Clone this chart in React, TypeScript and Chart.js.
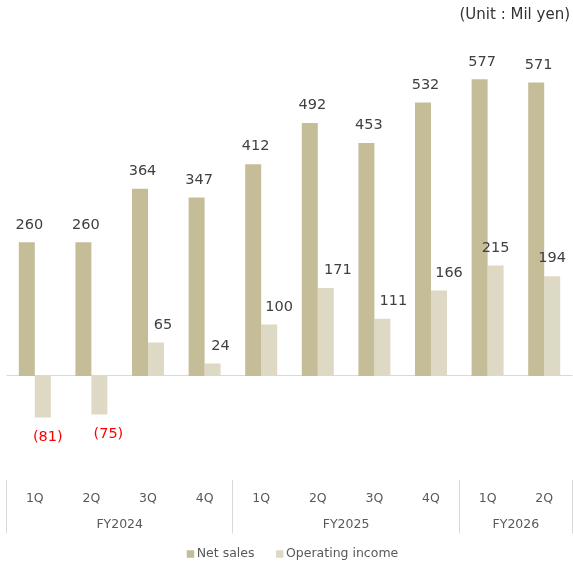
import { useEffect, useRef } from "react";
import { Chart, registerables } from "chart.js";

Chart.register(...registerables);

// Quarterly results
const quarters = ["1Q", "2Q", "3Q", "4Q", "1Q", "2Q", "3Q", "4Q", "1Q", "2Q"];
const fiscalYears = ["FY2024", "FY2025", "FY2026"];
const quartersPerYear = [4, 4, 2];
const netSales = [260, 260, 364, 347, 412, 492, 453, 532, 577, 571];
const operatingIncome = [-81, -75, 65, 24, 100, 171, 111, 166, 215, 194];
const seriesNames = ["Net sales", "Operating income"];
const unitLabel = "(Unit : Mil yen)";

const SALES_COLOR = "#c4bd97";
const INCOME_COLOR = "#ddd9c4";
const TEXT_DARK = "#404040";
const TEXT_AXIS = "#595959";
const RULE_COLOR = "#d9d9d9";
const FONT = "'DejaVu Sans', Verdana, sans-serif";

// horizontal nudges (px) for the operating income value labels
const incomeLabelNudge = [5, 9, 7, 8, 10, 12, 11, 10, 0, 0];

const fmt = (v: number) => (v < 0 ? `(${Math.abs(v)})` : String(v));

const decorations = {
  id: "decorations",
  beforeDatasetsDraw(chart: any) {
    const { ctx, chartArea, scales } = chart;
    const y0 = Math.floor(scales.y.getPixelForValue(0)) + 0.5;
    ctx.save();
    ctx.strokeStyle = RULE_COLOR;
    ctx.lineWidth = 1;
    ctx.beginPath();
    ctx.moveTo(chartArea.left, y0);
    ctx.lineTo(chartArea.right, y0);
    ctx.stroke();
    ctx.restore();
  },
  afterDraw(chart: any) {
    const { ctx, chartArea, scales } = chart;
    const x = scales.x;
    const bottom = chartArea.bottom;
    ctx.save();
    ctx.textAlign = "center";
    ctx.textBaseline = "middle";

    // value labels
    ctx.font = `14.5px ${FONT}`;
    const salesMeta = chart.getDatasetMeta(0);
    const incomeMeta = chart.getDatasetMeta(1);
    salesMeta.data.forEach((bar: any, i: number) => {
      ctx.fillStyle = TEXT_DARK;
      ctx.fillText(fmt(netSales[i]), bar.x + 2.5, bar.y - 17.5);
    });
    incomeMeta.data.forEach((bar: any, i: number) => {
      const v = operatingIncome[i];
      ctx.fillStyle = v < 0 ? "#ff0000" : TEXT_DARK;
      ctx.fillText(fmt(v), bar.x + incomeLabelNudge[i], v < 0 ? bar.y + 20 : bar.y - 17.5);
    });

    // two-level category axis
    const half = (x.getPixelForValue(1) - x.getPixelForValue(0)) / 2;
    ctx.font = `12.5px ${FONT}`;
    ctx.fillStyle = TEXT_AXIS;
    quarters.forEach((q, i) => ctx.fillText(q, x.getPixelForValue(i), bottom + 30));

    ctx.strokeStyle = RULE_COLOR;
    ctx.lineWidth = 1;
    let start = 0;
    const edges: number[] = [];
    fiscalYears.forEach((fy, g) => {
      const end = start + quartersPerYear[g] - 1;
      const left = x.getPixelForValue(start) - half;
      const right = x.getPixelForValue(end) + half;
      edges.push(left);
      if (g === fiscalYears.length - 1) edges.push(right);
      ctx.fillText(fy, (left + right) / 2, bottom + 56.6);
      start = end + 1;
    });
    edges.forEach((ex) => {
      const px = Math.min(Math.floor(ex) + 0.5, chart.width - 0.5);
      ctx.beginPath();
      ctx.moveTo(px, bottom + 11.6);
      ctx.lineTo(px, bottom + 65);
      ctx.stroke();
    });

    // legend
    const colors = [SALES_COLOR, INCOME_COLOR];
    const box = 7.5;
    const gapBox = 2.5;
    const gapItem = 21.5;
    const widths = seriesNames.map((n) => ctx.measureText(n).width);
    const total = widths.reduce((s, w) => s + box + gapBox + w, 0) + gapItem;
    let lx = (chartArea.left + chartArea.right) / 2 + 3 - total / 2;
    const ly = bottom + 85.6;
    ctx.textAlign = "left";
    seriesNames.forEach((name, i) => {
      ctx.fillStyle = colors[i];
      ctx.fillRect(lx, ly - box / 2, box, box);
      lx += box + gapBox;
      ctx.fillStyle = TEXT_AXIS;
      ctx.fillText(name, lx, ly);
      lx += widths[i] + gapItem;
    });

    // unit note
    ctx.font = `15px ${FONT}`;
    ctx.fillStyle = "#333333";
    ctx.textAlign = "right";
    ctx.fillText(unitLabel, 570, 15);

    ctx.restore();
  },
};

export default function App() {
  const canvasRef = useRef<HTMLCanvasElement | null>(null);

  useEffect(() => {
    if (!canvasRef.current) return;
    const chart = new Chart(canvasRef.current, {
      type: "bar",
      data: {
        labels: quarters,
        datasets: [
          {
            label: seriesNames[0],
            data: netSales,
            backgroundColor: SALES_COLOR,
            categoryPercentage: 0.565,
            barPercentage: 1,
          },
          {
            label: seriesNames[1],
            data: operatingIncome,
            backgroundColor: INCOME_COLOR,
            categoryPercentage: 0.565,
            barPercentage: 1,
          },
        ],
      },
      options: {
        responsive: false,
        animation: false,
        layout: { padding: { left: 6.5, right: 0.5, top: 16.1, bottom: 94.6 } },
        plugins: {
          legend: { display: false },
          title: { display: false },
          tooltip: { enabled: false },
        },
        scales: {
          x: { display: false, offset: true },
          y: { display: false, min: -180, max: 700 },
        },
      },
      plugins: [decorations],
    });
    return () => chart.destroy();
  }, []);

  return (
    <div style={{ position: "fixed", left: 0, top: 0, width: 573, height: 563, background: "#ffffff" }}>
      <canvas ref={canvasRef} width={573} height={563} style={{ width: 573, height: 563, display: "block" }} />
    </div>
  );
}
